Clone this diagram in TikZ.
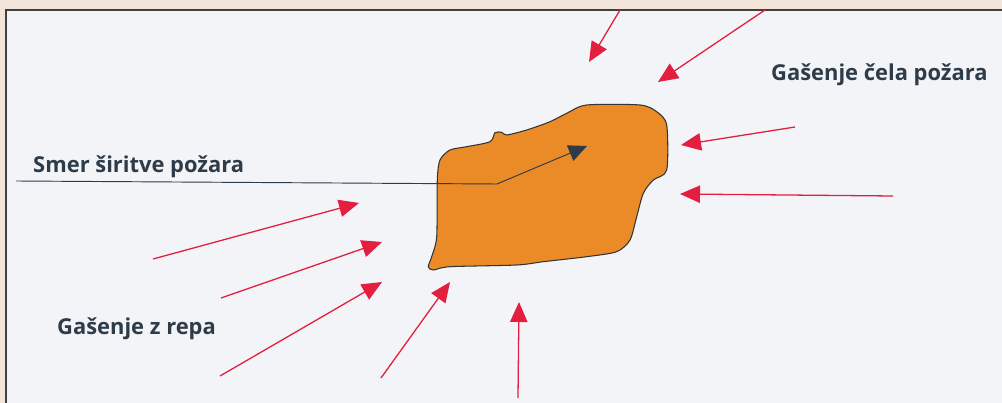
\documentclass[tikz,border=0pt]{standalone}
\usepackage{xcolor}
\usepackage{fontspec}
\setsansfont{Open Sans}
\usepackage{tikz}
\usetikzlibrary{arrows.meta}

\definecolor{pageBeige}{HTML}{F2E4D8}
\definecolor{panelGray}{HTML}{F3F4F8}
\definecolor{fireOrange}{HTML}{EA8B28}
\definecolor{jetRed}{HTML}{E31E3E}
\definecolor{labelInk}{HTML}{2E3B48}

\tikzset{
  jet/.style={draw=jetRed, line width=1.1pt, -{Triangle[length=0.6cm,width=0.52cm]}},
  label/.style={font=\sffamily\bfseries\fontsize{18.7}{21}\selectfont, text=labelInk, anchor=base west, inner sep=0pt}
}

\begin{document}
\begin{tikzpicture}[x=0.03cm,y=-0.03cm]
            \fill[pageBeige] (0,0) rectangle (1002,403);
            \useasboundingbox (0,0) rectangle (1002,403);
            \fill[panelGray] (6,10) rectangle (1002,403);
            \draw[line width=1.6pt, draw=black!75] (6,403) -- (6,10) -- (1002,10);

            % the fire
            \draw[fill=fireOrange, draw=black!80, line width=0.9pt] plot[smooth cycle, tension=0.45] coordinates {
              (431.7,256.7) (436.7,236.7) (437.3,180) (440,160) (450,150) (466.7,146.7)
              (490,141.7) (495,132.7) (501.7,132.3) (506.7,135) (526.7,130) (550,121.7)
              (566.7,113.3) (586.7,105) (640,105) (656.7,111.7) (666.7,125) (666.7,170)
              (653.3,180) (643.3,193.3) (636.7,216.7) (630,240) (616.7,251.7) (586.7,256.7)
              (543.3,261.7) (516.7,265) (450,266.7) (433.3,270) (428.3,266.7)};

            % labels
            \node[label] (smer) at (33,173) {Smer širitve požara};
            \node[label] (celo) at (771,81) {Gašenje čela požara};
            \node[label] (rep) at (57,335) {Gašenje z repa};

            % direction of spread
            \coordinate (smerA) at (16,181);
            \coordinate (smerB) at (497,184);
            \coordinate (smerC) at (587,146);
            \draw[draw=labelInk, line width=0.8pt, -{Triangle[length=0.55cm,width=0.5cm]}] (smerA) -- (smerB) -- (smerC);

            % jets from the head
            \coordinate (t1) at (620,10);  \coordinate (h1) at (589,62);
            \coordinate (t2) at (765,10);  \coordinate (h2) at (658,82);
            \coordinate (t3) at (795,127); \coordinate (h3) at (681,145);
            \coordinate (t4) at (893,196); \coordinate (h4) at (680,194);
            % jets from the tail
            \coordinate (t5) at (153,259); \coordinate (h5) at (359,203);
            \coordinate (t6) at (221,298); \coordinate (h6) at (382,242);
            \coordinate (t7) at (220,376); \coordinate (h7) at (382,282);
            \coordinate (t8) at (381,378); \coordinate (h8) at (450,282);
            \coordinate (t9) at (518,398); \coordinate (h9) at (519,302);

            \foreach \i in {1,...,9}
              \draw[jet] (t\i) -- (h\i);
         \end{tikzpicture}
\end{document}
